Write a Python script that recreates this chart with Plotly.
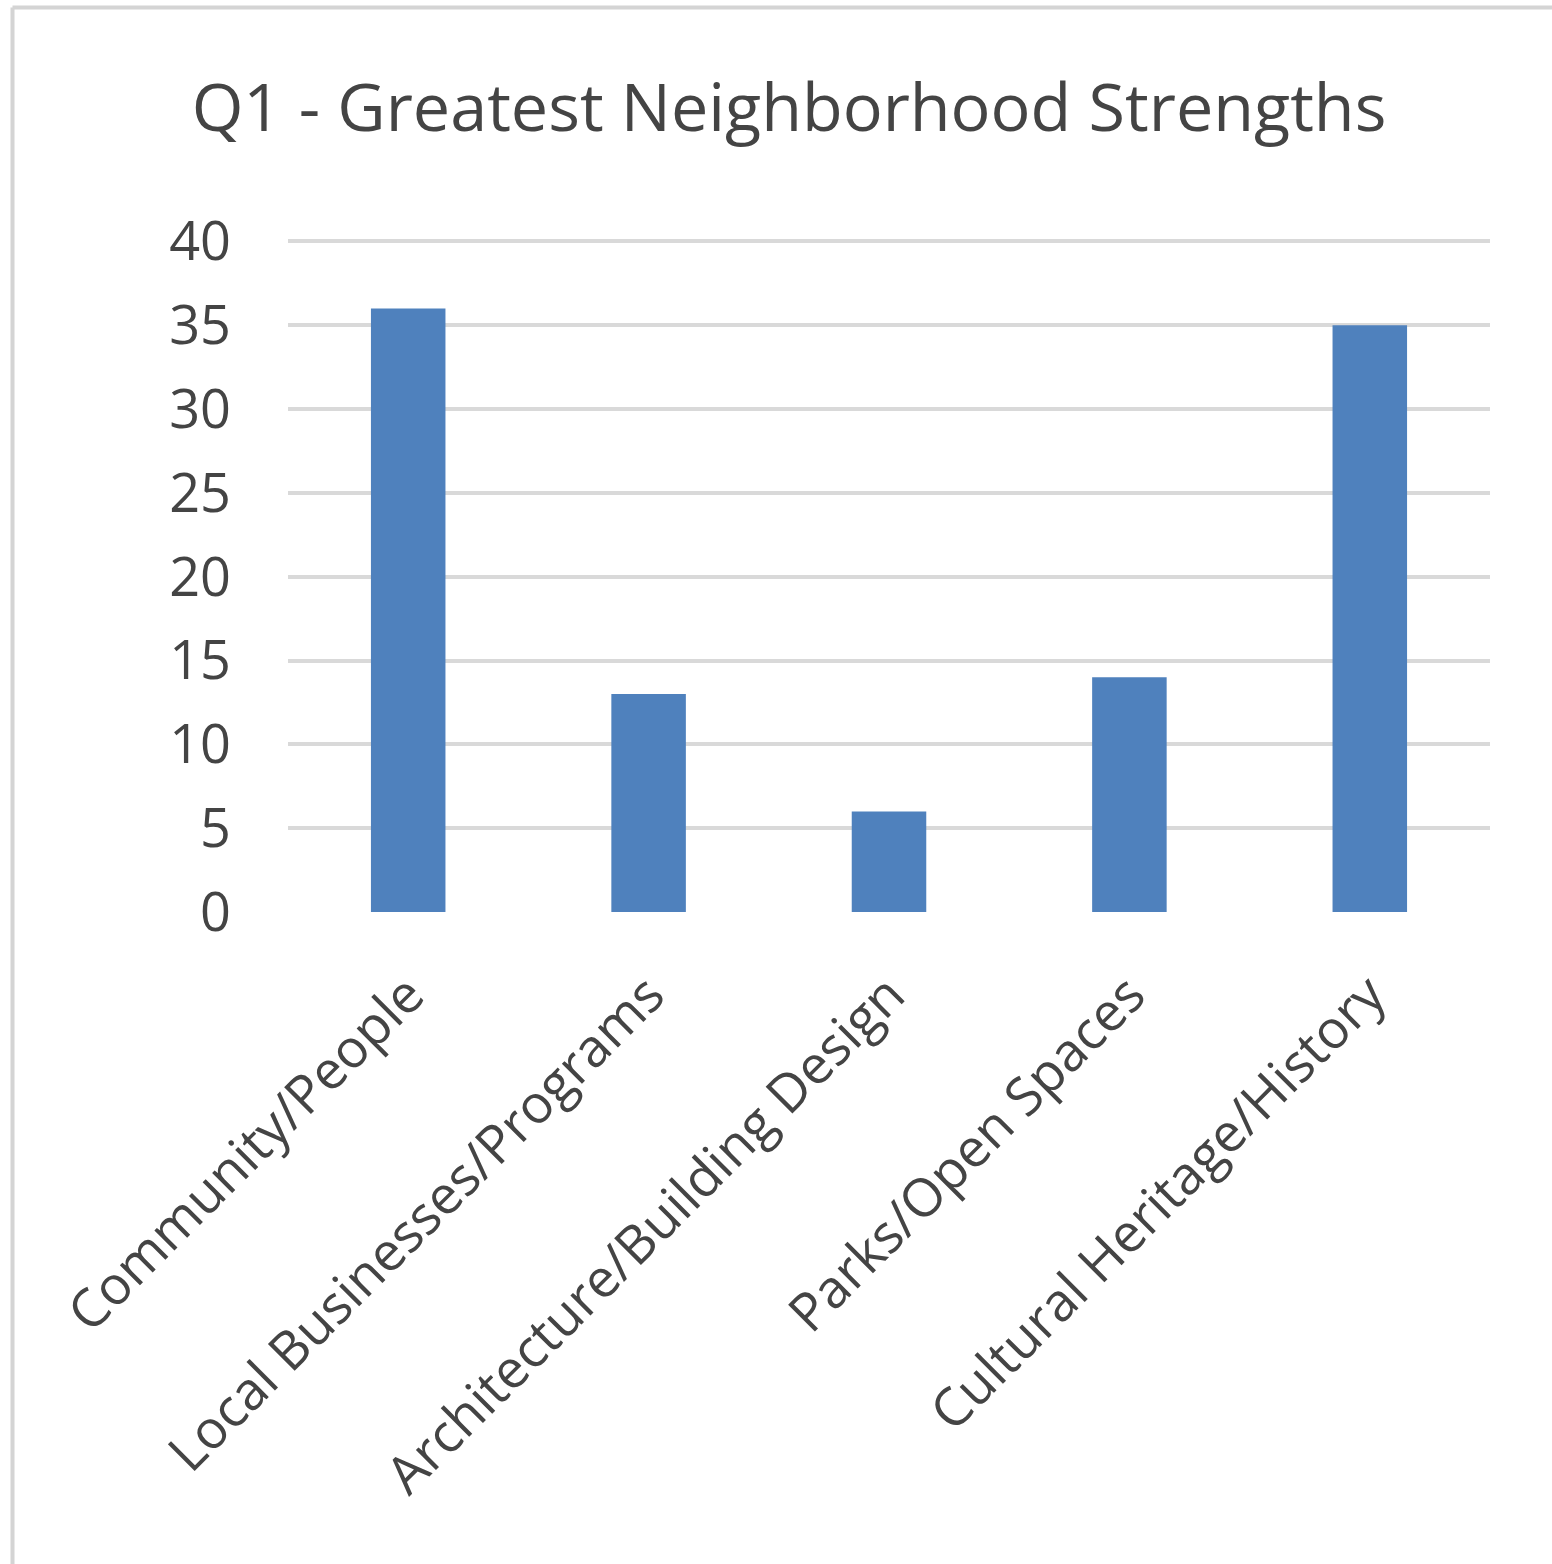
import plotly.graph_objects as go

categories = ["Community/People", "Local Businesses/Programs", "Architecture/Building Design",
              "Parks/Open Spaces", "Cultural Heritage/History"]
values = [36, 13, 6, 14, 35]
y_ticks = [0, 5, 10, 15, 20, 25, 30, 35, 40]

W, H = 1552, 1564
L, R, T, B = 288, 62, 240, 652
pw, ph = W - L - R, H - T - B

def px_x(x):
    return (x - L) / pw

def px_y(y):
    return (H - B - y) / ph

FONT = "Open Sans"
TXT = "#444444"

fig = go.Figure(go.Bar(x=categories, y=values, marker=dict(color="#4f81bd", line=dict(width=0)),
                       width=0.31))

fig.update_layout(
    width=W, height=H,
    margin=dict(l=L, r=R, t=T, b=B),
    plot_bgcolor="white", paper_bgcolor="white",
    showlegend=False,
    title=dict(text="Q1 - Greatest Neighborhood Strengths", x=(193 + 1385) / 2 / W, xanchor="center",
               y=1 - 108 / H, yanchor="middle",
               font=dict(family=FONT, size=66.5, color=TXT)),
    font=dict(family=FONT, color=TXT),
)
fig.update_yaxes(range=[0, 40.08], tickvals=y_ticks, showgrid=True, gridcolor="#d9d9d9", gridwidth=4,
                 zeroline=False, showline=False, ticks="", ticklabelstandoff=56,
                 tickfont=dict(family=FONT, size=54, color=TXT))
fig.update_xaxes(tickangle=-45, showline=False, showgrid=False, ticks="", ticklabelstandoff=40,
                 tickfont=dict(family=FONT, size=53, color=TXT))

# outer chart border (left and top visible)
border = dict(color="#d4d4d4", width=4)
fig.add_shape(type="line", xref="paper", yref="paper", x0=px_x(12.5), x1=px_x(12.5),
              y0=px_y(7.5), y1=px_y(H + 20), line=border)
fig.add_shape(type="line", xref="paper", yref="paper", x0=px_x(12.5), x1=px_x(W + 20),
              y0=px_y(7.5), y1=px_y(7.5), line=border)

fig.write_html("out.html", config={"displayModeBar": False},
               post_script="document.body.style.margin='0';document.body.style.padding='0';")
